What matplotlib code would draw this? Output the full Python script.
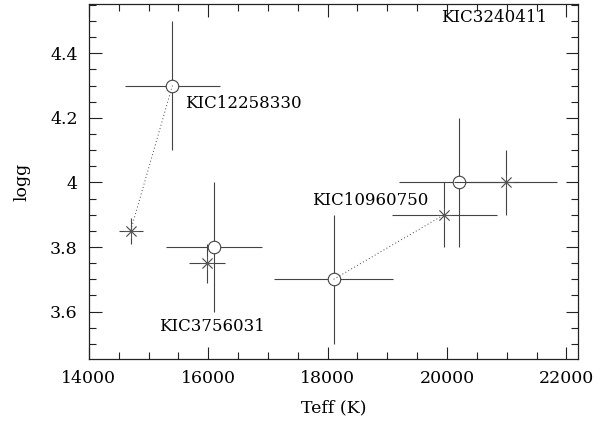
import matplotlib
matplotlib.use("Agg")
import matplotlib.pyplot as plt
from matplotlib.ticker import MultipleLocator

# spectroscopic (circles) vs other estimate (asterisks)
names = ["KIC12258330", "KIC3756031", "KIC10960750", "KIC3240411"]
teff_c = [15400, 16100, 18100, 20200]
logg_c = [4.3, 3.8, 3.7, 4.0]
teff_c_err = [800, 800, 1000, 1000]
logg_c_err = [0.2, 0.2, 0.2, 0.2]

teff_s = [14700, 15980, 19950, 20980]
logg_s = [3.85, 3.75, 3.9, 4.0]
teff_s_err = [200, 300, 880, 870]
logg_s_err = [0.04, 0.06, 0.1, 0.1]

# label positions (x, y, ha)
lab_x = [15620, 15180, 18720, 20780]
lab_y = [4.245, 3.555, 3.945, 4.51]
lab_ha = ["left", "left", "center", "center"]

plt.rcParams['font.family'] = 'DejaVu Serif'
fig = plt.figure(figsize=(6, 4.23), dpi=100)
ax = fig.add_axes([0.148, 0.151, 0.815, 0.84])

lc = "#444444"
ax.errorbar(teff_c, logg_c, xerr=teff_c_err, yerr=logg_c_err, fmt="none",
            ecolor=lc, elinewidth=0.8, capsize=0)
ax.plot(teff_c, logg_c, "o", ms=9, mfc="white", mec=lc, mew=0.8, ls="none")
ax.errorbar(teff_s, logg_s, xerr=teff_s_err, yerr=logg_s_err, fmt="none",
            ecolor=lc, elinewidth=0.8, capsize=0)
ax.plot(teff_s, logg_s, marker=(8, 2, 0), ms=10, mec="#555555", mew=0.6, ls="none")

# dotted links
for i in [0, 2]:
    ax.plot([teff_c[i], teff_s[i]], [logg_c[i], logg_s[i]], ls=(0, (1, 2.5)),
            color=lc, lw=0.7)

for i in range(len(names)):
    ax.text(lab_x[i], lab_y[i], names[i], ha=lab_ha[i], va="center", fontsize=12)

ax.set_xlim(14000, 22190)
ax.set_ylim(3.453, 4.553)
ax.xaxis.set_major_locator(MultipleLocator(2000))
ax.xaxis.set_minor_locator(MultipleLocator(500))
ax.yaxis.set_major_locator(MultipleLocator(0.2))
ax.yaxis.set_minor_locator(MultipleLocator(0.05))
ax.set_yticks([3.6, 3.8, 4.0, 4.2, 4.4])
ax.set_yticklabels(["3.6", "3.8", "4", "4.2", "4.4"])
ax.tick_params(which="both", direction="in", top=True, right=True,
               labelsize=12.5, color="#222", pad=8)
ax.tick_params(which="major", length=9, width=0.8)
ax.tick_params(which="minor", length=5, width=0.8)
for s in ax.spines.values():
    s.set_linewidth(0.9)
    s.set_color("#222")

ax.set_xlabel("Teff (K)", fontsize=12.5, labelpad=9)
ax.set_ylabel("logg", fontsize=12.5, labelpad=14)

fig.savefig("out.png", dpi=100)
